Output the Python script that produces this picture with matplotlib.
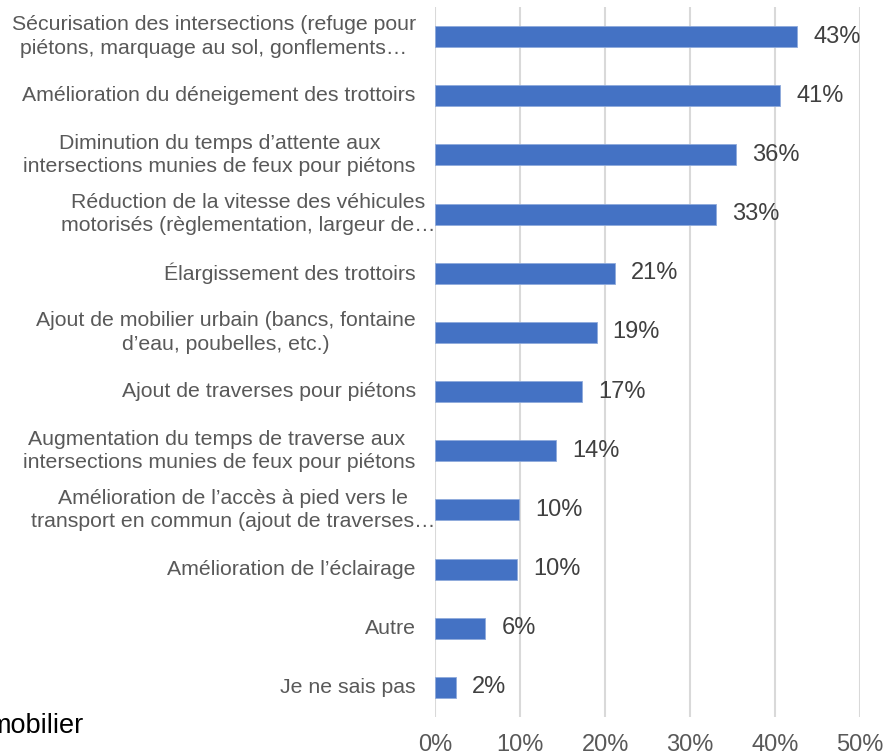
import numpy as np
import matplotlib.pyplot as plt
from matplotlib.ticker import FuncFormatter

plt.rcParams['font.family'] = ['Liberation Sans', 'DejaVu Sans']

# ---- donnees ----
categories = [
    "Sécurisation des intersections (refuge pour\npiétons, marquage au sol, gonflements…",
    "Amélioration du déneigement des trottoirs",
    "Diminution du temps d’attente aux\nintersections munies de feux pour piétons",
    "Réduction de la vitesse des véhicules\nmotorisés (règlementation, largeur de…",
    "Élargissement des trottoirs",
    "Ajout de mobilier urbain (bancs, fontaine\nd’eau, poubelles, etc.)",
    "Ajout de traverses pour piétons",
    "Augmentation du temps de traverse aux \nintersections munies de feux pour piétons",
    "Amélioration de l’accès à pied vers le\ntransport en commun (ajout de traverses…",
    "Amélioration de l’éclairage",
    "Autre",
    "Je ne sais pas",
]
values = [42.6, 40.6, 35.4, 33.1, 21.2, 19.0, 17.3, 14.2, 9.9, 9.6, 5.9, 2.4]
value_labels = ["43%", "41%", "36%", "33%", "21%", "19%", "17%", "14%", "10%", "10%", "6%", "2%"]
xticks = [0, 10, 20, 30, 40, 50]

# etiquettes dont l'ellipse deborde (comme dans Excel)
overflow = [3, 8]

# ---- figure ----
fig = plt.figure(figsize=(8.86, 7.56), dpi=100)
ax = fig.add_axes([0.4913, 0.0516, 0.4793, 0.9391])

y = np.arange(len(categories))
ax.barh(y, values, height=0.355, color='#4472C4', edgecolor='#8FAADC', linewidth=0.6, zorder=3)
ax.set_ylim(len(categories) - 0.5, -0.5)
ax.set_xlim(0, 50)

for i in range(len(values)):
    ax.annotate(value_labels[i], (values[i], y[i]), xytext=(11.5, 0), textcoords='offset points',
                ha='left', va='center', fontsize=17, color='#404040')

# etiquettes des categories
for i, lab in enumerate(categories):
    off = -14
    if i in overflow:
        off = 0
    ax.annotate(lab, (0, y[i]), xytext=(off, 0), textcoords='offset points',
                ha='right', va='center', multialignment='center',
                fontsize=15.3, color='#595959', linespacing=1.3)
ax.set_yticks([])

ax.set_xticks(xticks)
ax.xaxis.set_major_formatter(FuncFormatter(lambda v, p: '%d%%' % v))
ax.tick_params(axis='x', length=0, labelsize=17, labelcolor='#595959', pad=12)
ax.grid(axis='x', color='#D9D9D9', linewidth=1.5, zorder=0)
for s in ax.spines.values():
    s.set_visible(False)

fig.text(83 / 886, 1 - 733 / 756, 'mobilier', ha='right', va='baseline', fontsize=19.5, color='black')

plt.savefig('out.png', dpi=100)
